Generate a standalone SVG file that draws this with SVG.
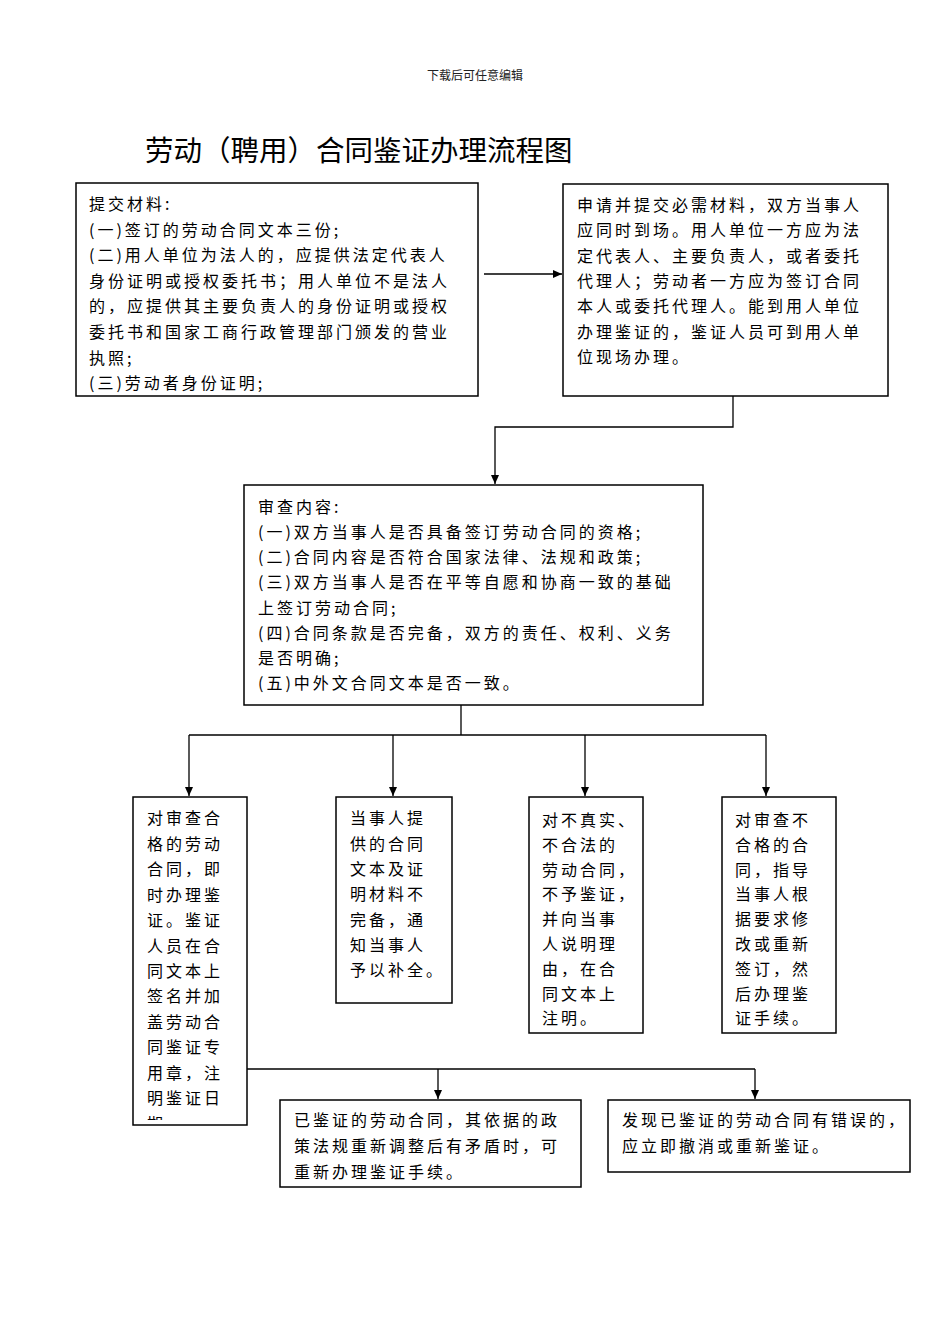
<svg xmlns="http://www.w3.org/2000/svg" width="950" height="1344" viewBox="0 0 950 1344">
<style>
.box{fill:#fff;stroke:#000;stroke-width:1.5}
.t{font-family:"Noto Sans CJK SC","Noto Sans CJK JP",sans-serif;font-size:16px;letter-spacing:3px;fill:#000}
.c{fill:none;stroke:#000;stroke-width:1.3}
.hd{font-family:"Noto Sans CJK SC",sans-serif;font-size:12px;fill:#222}
.ti{font-family:"Noto Sans CJK SC",sans-serif;font-size:28.5px;fill:#000}
</style>
<defs>
<marker id="arr" markerWidth="10" markerHeight="10" refX="9" refY="5" orient="auto" markerUnits="userSpaceOnUse">
<path d="M0,1 L9,5 L0,9 z" fill="#000"/>
</marker>
<clipPath id="clipA"><rect x="133" y="797" width="114" height="323"/></clipPath>
</defs>
<rect width="950" height="1344" fill="#fff"/>
<text class="hd" x="475" y="80" text-anchor="middle">下载后可任意编辑</text>
<text class="ti" x="145" y="161">劳动（聘用）合同鉴证办理流程图</text>

<g id="connectors">
<path class="c" d="M484,274 L562,274" marker-end="url(#arr)"/>
<path class="c" d="M733,396 L733,427 L495,427 L495,484" marker-end="url(#arr)"/>
<path class="c" d="M461,705 L461,735"/>
<path class="c" d="M189,735 L766,735"/>
<path class="c" d="M189,735 L189,796" marker-end="url(#arr)"/>
<path class="c" d="M393,735 L393,796" marker-end="url(#arr)"/>
<path class="c" d="M585,735 L585,796" marker-end="url(#arr)"/>
<path class="c" d="M766,735 L766,796" marker-end="url(#arr)"/>
<path class="c" d="M247,1069 L755,1069"/>
<path class="c" d="M438,1069 L438,1099" marker-end="url(#arr)"/>
<path class="c" d="M755,1069 L755,1099" marker-end="url(#arr)"/>
</g>

<g id="node-materials">
<rect class="box" x="76" y="183" width="402" height="213"/>
<text class="t" x="89" y="210">提交材料:</text>
<text class="t" x="89" y="235.6">(一)签订的劳动合同文本三份;</text>
<text class="t" x="89" y="261.2">(二)用人单位为法人的，应提供法定代表人</text>
<text class="t" x="89" y="286.8">身份证明或授权委托书；用人单位不是法人</text>
<text class="t" x="89" y="312.4">的，应提供其主要负责人的身份证明或授权</text>
<text class="t" x="89" y="338">委托书和国家工商行政管理部门颁发的营业</text>
<text class="t" x="89" y="363.6">执照;</text>
<text class="t" x="89" y="389.2">(三)劳动者身份证明;</text>
</g>

<g id="node-apply">
<rect class="box" x="563" y="184" width="325" height="212"/>
<text class="t" x="577" y="211">申请并提交必需材料，双方当事人</text>
<text class="t" x="577" y="236.3">应同时到场。用人单位一方应为法</text>
<text class="t" x="577" y="261.6">定代表人、主要负责人，或者委托</text>
<text class="t" x="577" y="286.9">代理人；劳动者一方应为签订合同</text>
<text class="t" x="577" y="312.2">本人或委托代理人。能到用人单位</text>
<text class="t" x="577" y="337.5">办理鉴证的，鉴证人员可到用人单</text>
<text class="t" x="577" y="362.8">位现场办理。</text>
</g>

<g id="node-review">
<rect class="box" x="244" y="485" width="459" height="220"/>
<text class="t" x="258" y="512.7">审查内容:</text>
<text class="t" x="258" y="537.9">(一)双方当事人是否具备签订劳动合同的资格;</text>
<text class="t" x="258" y="563.1">(二)合同内容是否符合国家法律、法规和政策;</text>
<text class="t" x="258" y="588.3">(三)双方当事人是否在平等自愿和协商一致的基础</text>
<text class="t" x="258" y="613.5">上签订劳动合同;</text>
<text class="t" x="258" y="638.7">(四)合同条款是否完备，双方的责任、权利、义务</text>
<text class="t" x="258" y="663.9">是否明确;</text>
<text class="t" x="258" y="689.1">(五)中外文合同文本是否一致。</text>
</g>

<g id="node-qualified">
<rect class="box" x="133" y="797" width="114" height="328"/>
<g clip-path="url(#clipA)">
<text class="t" x="147" y="824.3">对审查合</text>
<text class="t" x="147" y="849.75">格的劳动</text>
<text class="t" x="147" y="875.2">合同，即</text>
<text class="t" x="147" y="900.65">时办理鉴</text>
<text class="t" x="147" y="926.1">证。鉴证</text>
<text class="t" x="147" y="951.55">人员在合</text>
<text class="t" x="147" y="977">同文本上</text>
<text class="t" x="147" y="1002.45">签名并加</text>
<text class="t" x="147" y="1027.9">盖劳动合</text>
<text class="t" x="147" y="1053.35">同鉴证专</text>
<text class="t" x="147" y="1078.8">用章，注</text>
<text class="t" x="147" y="1104.25">明鉴证日</text>
<text class="t" x="147" y="1129.7">期。</text>
</g>
</g>

<g id="node-incomplete">
<rect class="box" x="336" y="797" width="116" height="206"/>
<text class="t" x="350" y="824.3">当事人提</text>
<text class="t" x="350" y="849.6">供的合同</text>
<text class="t" x="350" y="874.9">文本及证</text>
<text class="t" x="350" y="900.2">明材料不</text>
<text class="t" x="350" y="925.5">完备，通</text>
<text class="t" x="350" y="950.8">知当事人</text>
<text class="t" x="350" y="976.1">予以补全。</text>
</g>

<g id="node-illegal">
<rect class="box" x="529" y="797" width="114" height="236"/>
<text class="t" x="542" y="826">对不真实、</text>
<text class="t" x="542" y="850.8">不合法的</text>
<text class="t" x="542" y="875.6">劳动合同，</text>
<text class="t" x="542" y="900.4">不予鉴证，</text>
<text class="t" x="542" y="925.2">并向当事</text>
<text class="t" x="542" y="950">人说明理</text>
<text class="t" x="542" y="974.8">由，在合</text>
<text class="t" x="542" y="999.6">同文本上</text>
<text class="t" x="542" y="1024.4">注明。</text>
</g>

<g id="node-unqualified">
<rect class="box" x="722" y="797" width="114" height="236"/>
<text class="t" x="735" y="826">对审查不</text>
<text class="t" x="735" y="850.8">合格的合</text>
<text class="t" x="735" y="875.6">同，指导</text>
<text class="t" x="735" y="900.4">当事人根</text>
<text class="t" x="735" y="925.2">据要求修</text>
<text class="t" x="735" y="950">改或重新</text>
<text class="t" x="735" y="974.8">签订，然</text>
<text class="t" x="735" y="999.6">后办理鉴</text>
<text class="t" x="735" y="1024.4">证手续。</text>
</g>

<g id="node-policy-change">
<rect class="box" x="280" y="1100" width="301" height="87"/>
<text class="t" x="294" y="1126">已鉴证的劳动合同，其依据的政</text>
<text class="t" x="294" y="1152">策法规重新调整后有矛盾时，可</text>
<text class="t" x="294" y="1178">重新办理鉴证手续。</text>
</g>

<g id="node-error">
<rect class="box" x="608" y="1100" width="302" height="72"/>
<text class="t" x="622" y="1126" letter-spacing="2.6">发现已鉴证的劳动合同有错误的，</text>
<text class="t" x="622" y="1152" letter-spacing="2.6">应立即撤消或重新鉴证。</text>
</g>
</svg>
